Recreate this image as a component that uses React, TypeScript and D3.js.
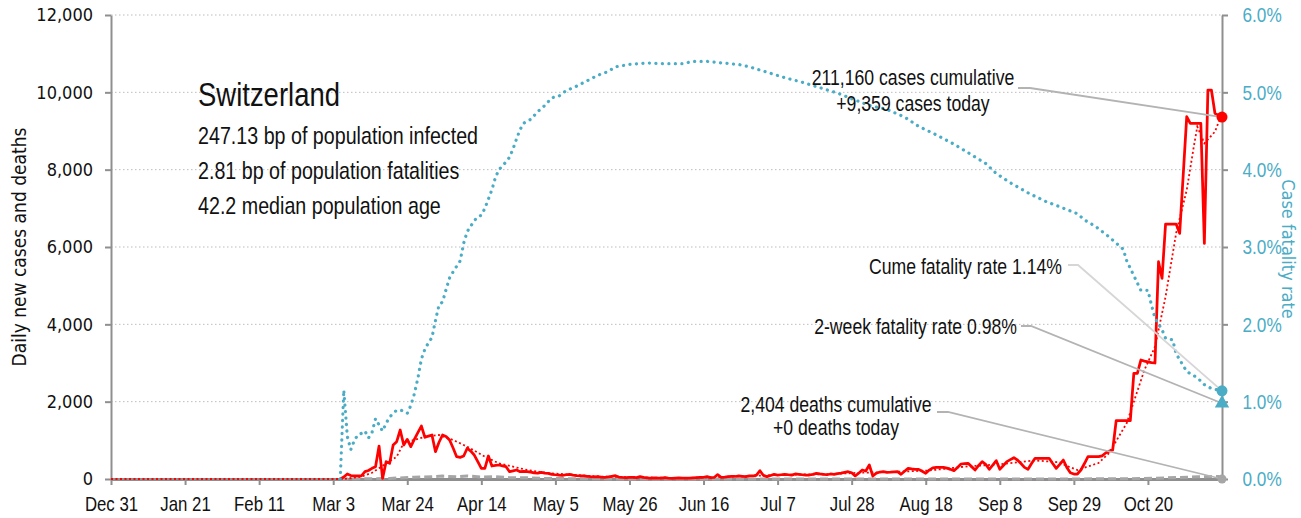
import React, { useEffect, useRef } from 'react'
import * as d3 from 'd3'

const WIDTH = 1301
const HEIGHT = 518
const LEFT = 111
const RIGHT = 1222
const TOP = 15
const BOTTOM = 479

// no narrow face installed, so Liberation Sans is squeezed horizontally
const SANS = '"Liberation Sans", Arial, sans-serif'
const SQUEEZE = 0.82
const COND = '"DejaVu Sans Condensed", "DejaVu Sans", sans-serif'
const RED = '#ff0000'
const BLUE = '#4bacc6'
const GREY = '#a6a6a6'
const AXIS = '#8f8f8f'

const country = 'Switzerland'
const infectedBp = 247.13
const fatalitiesBp = 2.81
const medianAge = 42.2
const cumulativeCases = 211160
const casesToday = 9359
const cumulativeDeaths = 2404
const deathsToday = 0
const cumeFatalityRate = 1.14
const twoWeekFatalityRate = 0.98

const firstDay = '2019-12-31'
const lastDay = '2020-11-10'

const tickDates = ['2019-12-31', '2020-01-21', '2020-02-11', '2020-03-03', '2020-03-24', '2020-04-14', '2020-05-05',
  '2020-05-26', '2020-06-16', '2020-07-07', '2020-07-28', '2020-08-18', '2020-09-08', '2020-09-29', '2020-10-20']
const tickLabels = ['Dec 31', 'Jan 21', 'Feb 11', 'Mar 3', 'Mar 24', 'Apr 14', 'May 5',
  'May 26', 'Jun 16', 'Jul 7', 'Jul 28', 'Aug 18', 'Sep 8', 'Sep 29', 'Oct 20']
const leftTicks = [0, 2000, 4000, 6000, 8000, 10000, 12000]
const rightTicks = [0, 1, 2, 3, 4, 5, 6]

// daily new cases, one value per day starting Mar 5
const casesStart = '2020-03-05'
const casesMar = [0, 50, 129, 90, 78, 78, 80, 190, 220, 276, 319, 853, 17, 448, 405, 879, 966, 1267, 879, 1026, 836, 1026, 1200, 1370, 1078, 1110, 1138]
const casesApr = [706, 950, 1138, 1100, 1009, 800, 577, 560, 595, 794, 720, 620, 450, 276, 276, 595, 336, 350, 362, 340, 318, 189, 210, 233, 189, 200, 189, 180, 160, 150]
const casesMay = [170, 150, 147, 120, 110, 103, 95, 110, 121, 100, 85, 80, 78, 70, 60, 55, 60, 50, 45, 55, 70, 86, 50, 40, 35, 45, 43, 35, 60, 40, 30]
const casesJun = [25, 30, 20, 25, 35, 20, 15, 25, 30, 25, 20, 20, 30, 35, 40, 45, 60, 35, 40, 115, 45, 50, 60, 70, 65, 78, 70, 60, 80, 78]
const casesJul = [100, 215, 90, 60, 90, 120, 100, 110, 121, 110, 100, 130, 120, 110, 100, 103, 120, 147, 130, 120, 110, 130, 121, 140, 150, 170, 189, 160, 78, 150, 233]
const casesAug = [207, 362, 78, 150, 180, 189, 170, 175, 185, 189, 121, 200, 276, 260, 250, 250, 200, 147, 230, 290, 302, 300, 302, 280, 250, 215, 300, 388, 400, 405, 320]
const casesSep = [233, 350, 448, 380, 250, 360, 474, 250, 350, 448, 500, 551, 491, 400, 300, 250, 400, 535, 535, 535, 535, 535, 400, 276, 380, 491, 300, 163, 129, 129]
const casesOct = [233, 400, 577, 577, 577, 577, 600, 672, 720, 750, 1508, 1508, 1508, 1508, 1508, 2733, 2733, 3077, 3050, 3030, 3010, 3000, 5620, 5190, 6594, 6594, 6594, 6594, 6353, 7860, 9370]
const casesNov = [9198, 9198, 9198, 9198, 6094, 10060, 10060, 9457, 9400, 9359]

// trailing average of cases (red dotted)
const casesAvg: [string, number][] = [
  ['2019-12-31', 0], ['2020-03-06', 0], ['2020-03-11', 60], ['2020-03-14', 160], ['2020-03-16', 280], ['2020-03-21', 577],
  ['2020-03-23', 930], ['2020-03-26', 1009], ['2020-03-29', 1094], ['2020-04-02', 1138], ['2020-04-06', 1009], ['2020-04-10', 836],
  ['2020-04-15', 577], ['2020-04-19', 405], ['2020-04-23', 318], ['2020-04-27', 233], ['2020-05-03', 150], ['2020-05-10', 110],
  ['2020-05-17', 65], ['2020-05-24', 50], ['2020-05-31', 40], ['2020-06-10', 25], ['2020-06-20', 50], ['2020-06-30', 80],
  ['2020-07-10', 115], ['2020-07-20', 120], ['2020-07-30', 160], ['2020-08-09', 185], ['2020-08-19', 220], ['2020-08-29', 320],
  ['2020-09-08', 380], ['2020-09-18', 480], ['2020-09-25', 430], ['2020-09-27', 336], ['2020-09-30', 233], ['2020-10-06', 414],
  ['2020-10-09', 672], ['2020-10-14', 1448], ['2020-10-19', 2819], ['2020-10-22', 3421], ['2020-10-25', 4714], ['2020-10-28', 6360],
  ['2020-10-31', 7473], ['2020-11-02', 8594], ['2020-11-03', 9110], ['2020-11-05', 8681], ['2020-11-08', 8982], ['2020-11-10', 9457]
]

// daily deaths (grey)
const deaths: [string, number][] = [
  ['2020-03-05', 0], ['2020-03-12', 4], ['2020-03-19', 15], ['2020-03-26', 45], ['2020-03-31', 60], ['2020-04-03', 75],
  ['2020-04-07', 55], ['2020-04-10', 80], ['2020-04-14', 50], ['2020-04-18', 60], ['2020-04-22', 35], ['2020-04-27', 30],
  ['2020-05-02', 15], ['2020-05-10', 8], ['2020-05-20', 3], ['2020-06-01', 1], ['2020-07-01', 1], ['2020-08-01', 2],
  ['2020-09-01', 3], ['2020-10-01', 3], ['2020-10-15', 6], ['2020-10-22', 18], ['2020-10-29', 40], ['2020-11-03', 55],
  ['2020-11-09', 65], ['2020-11-10', 0]
]

// case fatality rate, % (blue dotted, right axis)
const fatalityRate: [string, number][] = [
  ['2020-03-05', 0], ['2020-03-06', 1.15], ['2020-03-07', 0.55], ['2020-03-08', 0.38], ['2020-03-09', 0.5], ['2020-03-10', 0.57],
  ['2020-03-11', 0.59], ['2020-03-12', 0.62], ['2020-03-13', 0.53], ['2020-03-14', 0.6], ['2020-03-15', 0.78], ['2020-03-16', 0.7],
  ['2020-03-17', 0.62], ['2020-03-18', 0.72], ['2020-03-19', 0.8], ['2020-03-20', 0.85], ['2020-03-21', 0.89], ['2020-03-22', 0.89],
  ['2020-03-23', 0.88], ['2020-03-24', 0.85], ['2020-03-25', 0.95], ['2020-03-26', 1.1], ['2020-03-27', 1.3], ['2020-03-28', 1.55],
  ['2020-03-29', 1.68], ['2020-03-30', 1.76], ['2020-03-31', 1.83], ['2020-04-01', 2.05], ['2020-04-02', 2.25], ['2020-04-03', 2.29],
  ['2020-04-04', 2.45], ['2020-04-05', 2.6], ['2020-04-06', 2.68], ['2020-04-07', 2.75], ['2020-04-08', 2.82], ['2020-04-09', 3.05],
  ['2020-04-10', 3.2], ['2020-04-11', 3.27], ['2020-04-12', 3.34], ['2020-04-13', 3.39], ['2020-04-14', 3.41], ['2020-04-15', 3.5],
  ['2020-04-16', 3.62], ['2020-04-17', 3.74], ['2020-04-18', 3.9], ['2020-04-19', 4.0], ['2020-04-20', 4.05], ['2020-04-21', 4.1],
  ['2020-04-22', 4.16], ['2020-04-23', 4.27], ['2020-04-24', 4.4], ['2020-04-25', 4.52], ['2020-04-26', 4.6], ['2020-04-27', 4.63],
  ['2020-04-28', 4.65], ['2020-04-29', 4.7], ['2020-04-30', 4.75], ['2020-05-02', 4.83], ['2020-05-04', 4.93], ['2020-05-06', 4.95],
  ['2020-05-08', 5.02], ['2020-05-11', 5.08], ['2020-05-14', 5.15], ['2020-05-17', 5.22], ['2020-05-20', 5.27], ['2020-05-22', 5.33],
  ['2020-05-26', 5.36], ['2020-05-31', 5.38], ['2020-06-05', 5.37], ['2020-06-10', 5.37], ['2020-06-13', 5.4], ['2020-06-17', 5.4],
  ['2020-06-21', 5.38], ['2020-06-26', 5.36], ['2020-06-29', 5.33], ['2020-07-04', 5.26], ['2020-07-09', 5.19], ['2020-07-14', 5.13],
  ['2020-07-19', 5.06], ['2020-07-24', 4.99], ['2020-07-29', 4.9], ['2020-08-02', 4.83], ['2020-08-07', 4.78], ['2020-08-12', 4.68],
  ['2020-08-16', 4.56], ['2020-08-21', 4.45], ['2020-08-26', 4.33], ['2020-08-30', 4.22], ['2020-09-04', 4.08], ['2020-09-07', 3.95],
  ['2020-09-11', 3.83], ['2020-09-16', 3.7], ['2020-09-21', 3.59], ['2020-09-25', 3.52], ['2020-09-30', 3.43], ['2020-10-02', 3.35],
  ['2020-10-05', 3.27], ['2020-10-09', 3.13], ['2020-10-13', 2.97], ['2020-10-14', 2.82], ['2020-10-16', 2.63], ['2020-10-18', 2.44],
  ['2020-10-20', 2.44], ['2020-10-21', 2.25], ['2020-10-22', 2.08], ['2020-10-24', 1.93], ['2020-10-25', 1.82], ['2020-10-27', 1.8],
  ['2020-10-28', 1.62], ['2020-10-31', 1.39], ['2020-11-03', 1.31], ['2020-11-05', 1.22], ['2020-11-07', 1.17], ['2020-11-10', 1.14]
]

type Pt = { date: Date, v: number }

export default function App() {
  const ref = useRef<SVGSVGElement>(null)

  useEffect(() => {
    const svg = d3.select(ref.current)
    svg.selectAll('*').remove()

    const parse = d3.timeParse('%Y-%m-%d')
    const fmt = d3.format(',')
    const toPts = (rows: [string, number][]): Pt[] => rows.map(([d, v]) => ({ date: parse(d) as Date, v }))

    const start = parse(casesStart) as Date
    const daily = [...casesMar, ...casesApr, ...casesMay, ...casesJun, ...casesJul, ...casesAug, ...casesSep, ...casesOct, ...casesNov]
    const casePts: Pt[] = daily.map((v, i) => ({ date: d3.timeDay.offset(start, i), v }))
    const endDate = parse(lastDay) as Date

    const x = d3.scaleTime().domain([parse(firstDay) as Date, endDate]).range([LEFT, RIGHT])
    const yL = d3.scaleLinear().domain([0, 12000]).range([BOTTOM, TOP])
    const yR = d3.scaleLinear().domain([0, 6]).range([BOTTOM, TOP])

    // grid
    svg.append('g').selectAll('line')
      .data(leftTicks.filter(d => d > 0))
      .join('line')
      .attr('x1', LEFT).attr('x2', RIGHT)
      .attr('y1', d => yL(d)).attr('y2', d => yL(d))
      .attr('stroke', '#bdbdbd').attr('stroke-width', 1).attr('stroke-dasharray', '1.5 2.5')

    // axes
    const gl = svg.append('g').attr('transform', `translate(${LEFT},0)`)
      .call(d3.axisLeft(yL).tickValues(leftTicks).tickFormat(d => fmt(d as number)).tickSize(6).tickSizeOuter(0).tickPadding(12))
    gl.select('.domain').attr('stroke', AXIS).attr('stroke-width', 2)
    gl.selectAll('.tick line').attr('stroke', AXIS).attr('stroke-width', 2)
    gl.selectAll('.tick text').attr('font-family', COND).attr('font-size', 18).attr('fill', '#111')

    const gr = svg.append('g').attr('transform', `translate(${RIGHT},0)`)
      .call(d3.axisRight(yR).tickValues(rightTicks).tickFormat(d => (d as number).toFixed(1) + '%').tickSize(6).tickSizeOuter(0).tickPadding(14))
    gr.select('.domain').attr('stroke', AXIS).attr('stroke-width', 2)
    gr.selectAll('.tick line').attr('stroke', AXIS).attr('stroke-width', 2)
    gr.selectAll('.tick text').attr('font-family', SANS).attr('font-size', 21).attr('fill', BLUE)
      .attr('x', 20.5 / SQUEEZE).attr('transform', `scale(${SQUEEZE},1)`)

    const gb = svg.append('g').attr('transform', `translate(0,${BOTTOM})`)
      .call(d3.axisBottom(x).tickValues(tickDates.map(d => parse(d) as Date))
        .tickFormat((d, i) => tickLabels[i]).tickSize(6).tickSizeOuter(0))
    gb.select('.domain').attr('stroke', AXIS).attr('stroke-width', 3)
    gb.selectAll('.tick line').attr('stroke', AXIS).attr('stroke-width', 2)
    gb.selectAll('.tick text').attr('font-family', SANS).attr('font-size', 20.5).attr('fill', '#111')
      .attr('dy', null).attr('y', 32.5).attr('transform', `scale(${SQUEEZE},1)`)

    // axis titles
    svg.append('text')
      .attr('transform', `translate(26,${(TOP + BOTTOM) / 2}) rotate(-90)`)
      .attr('text-anchor', 'middle').attr('font-family', COND).attr('font-size', 19).attr('fill', '#111')
      .text('Daily new cases and deaths')
    svg.append('text')
      .attr('transform', `translate(1282,${(TOP + BOTTOM) / 2 + 2}) rotate(90)`)
      .attr('text-anchor', 'middle').attr('font-family', COND).attr('font-size', 18).attr('fill', BLUE)
      .text('Case fatality rate')

    // series
    const lineL = d3.line<Pt>().x(d => x(d.date)).y(d => yL(d.v))
    const lineR = d3.line<Pt>().x(d => x(d.date)).y(d => yR(d.v))

    svg.append('path').attr('d', lineL(toPts(deaths)))
      .attr('fill', 'none').attr('stroke', GREY).attr('stroke-width', 3).attr('stroke-dasharray', '8 4')

    svg.append('path').attr('d', lineL(casePts))
      .attr('fill', 'none').attr('stroke', RED).attr('stroke-width', 2.75).attr('stroke-linejoin', 'round')

    svg.append('path').attr('d', lineL(toPts(casesAvg)))
      .attr('fill', 'none').attr('stroke', RED).attr('stroke-width', 1.8).attr('stroke-dasharray', '2 2.5')

    svg.append('path').attr('d', lineR(toPts(fatalityRate)))
      .attr('fill', 'none').attr('stroke', BLUE).attr('stroke-width', 3.2)
      .attr('stroke-linecap', 'round').attr('stroke-dasharray', '0.1 6.4')

    // annotations
    const xe = x(endDate)
    const leaders = [
      { pts: [[1018, 88], [1030, 88], [xe, yL(casesToday)]], color: '#b3b3b3' },
      { pts: [[1068, 265], [1078, 265], [xe, yR(cumeFatalityRate)]], color: '#d6d6d6' },
      { pts: [[1021, 326], [1031, 326], [xe, yR(twoWeekFatalityRate)]], color: '#b3b3b3' },
      { pts: [[937, 412], [948, 412], [xe, yL(deathsToday)]], color: '#b3b3b3' }
    ]
    leaders.forEach(l => {
      svg.append('path').attr('d', d3.line()(l.pts as [number, number][]))
        .attr('fill', 'none').attr('stroke', l.color).attr('stroke-width', 1.8)
    })

    const label = (tx: number, ty: number, anchor: string, s: string, size = 21.5) =>
      svg.append('g').attr('transform', `translate(${tx},${ty}) scale(${SQUEEZE},1)`)
        .append('text').attr('text-anchor', anchor)
        .attr('font-family', SANS).attr('font-size', size).attr('fill', '#111').text(s)

    label(913, 84.5, 'middle', `${fmt(cumulativeCases)} cases cumulative`)
    label(913, 111, 'middle', `+${fmt(casesToday)} cases today`)
    label(1062, 273.5, 'end', `Cume fatality rate ${cumeFatalityRate.toFixed(2)}%`)
    label(1017, 333.5, 'end', `2-week fatality rate ${twoWeekFatalityRate.toFixed(2)}%`)
    label(836, 411.5, 'middle', `${fmt(cumulativeDeaths)} deaths cumulative`)
    label(836, 435, 'middle', `+${deathsToday} deaths today`)

    // title block
    label(198, 106, 'start', country, 33.5)
    label(198, 143.5, 'start', `${infectedBp} bp of population infected`, 24)
    label(198, 178.5, 'start', `${fatalitiesBp} bp of population fatalities`, 24)
    label(198, 213.5, 'start', `${medianAge} median population age`, 24)

    // end markers
    svg.append('circle').attr('cx', xe).attr('cy', yL(casesToday)).attr('r', 5.5).attr('fill', RED)
    svg.append('circle').attr('cx', xe).attr('cy', yR(cumeFatalityRate)).attr('r', 5.5).attr('fill', BLUE)
    svg.append('path')
      .attr('d', d3.symbol(d3.symbolTriangle, 90)())
      .attr('transform', `translate(${xe},${yR(twoWeekFatalityRate)})`)
      .attr('fill', BLUE)
    svg.append('circle').attr('cx', xe).attr('cy', yL(deathsToday)).attr('r', 4.5).attr('fill', GREY)
  }, [])

  return (
    <svg ref={ref} width={WIDTH} height={HEIGHT}
      style={{ position: 'absolute', left: 0, top: 0, background: '#fff' }} />
  )
}
